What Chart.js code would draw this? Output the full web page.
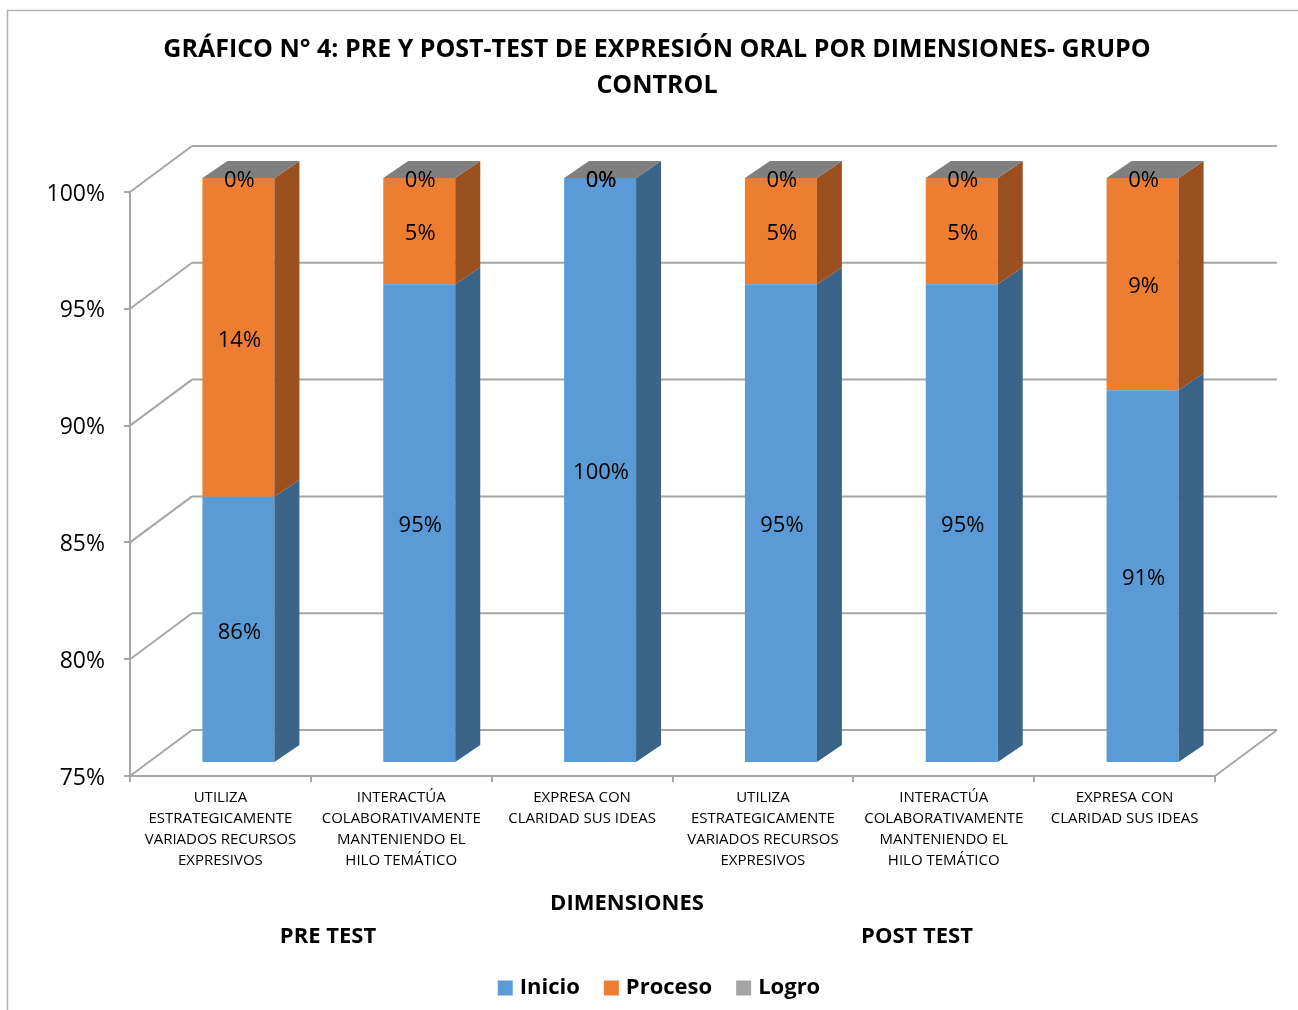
<!DOCTYPE html>
<html>
<head>
<meta charset="utf-8">
<script src="https://cdn.jsdelivr.net/npm/chart.js@4/dist/chart.umd.min.js"></script>
<style>
  html, body { margin: 0; padding: 0; background: #ffffff; }
  #wrap { width: 1298px; height: 1010px; }
</style>
</head>
<body>
<div id="wrap"><canvas id="c" width="1298" height="1010"></canvas></div>
<script>
// ---- data ----
const categories = [
  ["UTILIZA", "ESTRATEGICAMENTE", "VARIADOS RECURSOS", "EXPRESIVOS"],
  ["INTERACTÚA", "COLABORATIVAMENTE", "MANTENIENDO EL", "HILO TEMÁTICO"],
  ["EXPRESA CON", "CLARIDAD SUS IDEAS"],
  ["UTILIZA", "ESTRATEGICAMENTE", "VARIADOS RECURSOS", "EXPRESIVOS"],
  ["INTERACTÚA", "COLABORATIVAMENTE", "MANTENIENDO EL", "HILO TEMÁTICO"],
  ["EXPRESA CON", "CLARIDAD SUS IDEAS"]
];
const inicio  = [86.36, 95.45, 100, 95.45, 95.45, 90.91];
const proceso = [13.64, 4.55, 0, 4.55, 4.55, 9.09];
const logro   = [0, 0, 0, 0, 0, 0];
const seriesNames = ["Inicio", "Proceso", "Logro"];
const yTicks = [75, 80, 85, 90, 95, 100];
const titleLines = ["GRÁFICO N° 4: PRE Y POST-TEST DE EXPRESIÓN ORAL POR DIMENSIONES- GRUPO", "CONTROL"];
const axisTitle = "DIMENSIONES";
const groupLabels = ["PRE TEST", "POST TEST"];

// ---- style ----
const FONT = "'Open Sans', 'DejaVu Sans', sans-serif";
const frontColors = ["#5B9BD5", "#ED7D31", "#7F7F7F"];
const sideColors  = ["#3B6489", "#9A501F", "#7F7F7F"];
const legendColors = ["#5B9BD5", "#ED7D31", "#A5A5A5"];
const TOP_COLOR = "#7F7F7F";
const GRID = "#A6A6A6";
const WALL_DX = 62, WALL_DY = 46;   // back wall offset
const SHIFT_X = 18, SHIFT_Y = 14;   // bar front offset from front plane
const BAR_DX = 25, BAR_DY = 17;     // bar depth

function line(ctx, x1, y1, x2, y2) {
  ctx.beginPath(); ctx.moveTo(x1, y1); ctx.lineTo(x2, y2); ctx.stroke();
}
function poly(ctx, pts, color) {
  ctx.beginPath(); ctx.moveTo(pts[0][0], pts[0][1]);
  for (let k = 1; k < pts.length; k++) ctx.lineTo(pts[k][0], pts[k][1]);
  ctx.closePath(); ctx.fillStyle = color; ctx.fill();
}

const threeD = {
  id: 'threeD',
  beforeDraw(chart) {
    const ctx = chart.ctx;
    ctx.save();
    ctx.fillStyle = '#fff'; ctx.fillRect(0, 0, chart.width, chart.height);
    ctx.strokeStyle = '#B4B4B4'; ctx.lineWidth = 1.5;
    ctx.strokeRect(7.5, 10.5, 1400, 1100);
    // title
    ctx.fillStyle = '#000';
    ctx.font = "bold 25px " + FONT;
    ctx.textAlign = 'center'; ctx.textBaseline = 'middle';
    ctx.fillText(titleLines[0], 657, 50);
    ctx.fillText(titleLines[1], 657, 86);
    // axis title and groups
    ctx.font = "bold 22px " + FONT;
    ctx.fillText(axisTitle, 627, 904);
    ctx.fillText(groupLabels[0], 328, 937);
    ctx.fillText(groupLabels[1], 917, 937);
    // legend
    ctx.font = "bold 22px " + FONT;
    const box = 15, gapBox = 7, gapItem = 24;
    const widths = seriesNames.map(n => box + gapBox + ctx.measureText(n).width);
    const total = widths.reduce((a, b) => a + b, 0) + gapItem * (widths.length - 1);
    let lx = 659 - total / 2;
    const ly = 988;
    ctx.textAlign = 'left';
    seriesNames.forEach((n, i) => {
      ctx.fillStyle = legendColors[i];
      ctx.fillRect(lx, ly - box / 2, box, box);
      ctx.fillStyle = '#000';
      ctx.fillText(n, lx + box + gapBox, ly);
      lx += widths[i] + gapItem;
    });
    ctx.restore();
  },
  beforeDatasetsDraw(chart) {
    const { ctx, chartArea: a, scales: { y } } = chart;
    ctx.save();
    ctx.strokeStyle = GRID; ctx.lineWidth = 2;
    y.ticks.forEach(t => {
      const py = y.getPixelForValue(t.value);
      line(ctx, a.left, py, a.left + WALL_DX, py - WALL_DY);
      line(ctx, a.left + WALL_DX, py - WALL_DY, a.right + WALL_DX, py - WALL_DY);
    });
    line(ctx, a.right, a.bottom, a.right + WALL_DX, a.bottom - WALL_DY);
    ctx.restore();
    ctx.save();
    ctx.translate(SHIFT_X, -SHIFT_Y);
  },
  afterDatasetsDraw(chart) {
    const ctx = chart.ctx;
    const a = chart.chartArea;
    ctx.restore();
    const metas = chart.data.datasets.map((d, i) => chart.getDatasetMeta(i));
    const n = chart.data.labels.length;
    const clampY = v => Math.min(Math.max(v, a.top), a.bottom);
    ctx.save();
    for (let i = 0; i < n; i++) {
      metas.forEach((m, di) => {
        const el = m.data[i];
        const top = clampY(Math.min(el.y, el.base)) - SHIFT_Y;
        const bot = clampY(Math.max(el.y, el.base)) - SHIFT_Y;
        const r = el.x + el.width / 2 + SHIFT_X;
        if (bot - top > 0.1) {
          poly(ctx, [[r, top], [r + BAR_DX, top - BAR_DY], [r + BAR_DX, bot - BAR_DY], [r, bot]], sideColors[di]);
        }
      });
      const last = metas[metas.length - 1].data[i];
      const ty = clampY(last.y) - SHIFT_Y;
      const l = last.x - last.width / 2 + SHIFT_X;
      const r = last.x + last.width / 2 + SHIFT_X;
      poly(ctx, [[l, ty], [r, ty], [r + BAR_DX, ty - BAR_DY], [l + BAR_DX, ty - BAR_DY]], TOP_COLOR);
    }
    ctx.fillStyle = '#000';
    ctx.font = "22px " + FONT;
    ctx.textAlign = 'center'; ctx.textBaseline = 'middle';
    for (let i = 0; i < n; i++) {
      metas.forEach((m, di) => {
        const el = m.data[i];
        const v = chart.data.datasets[di].data[i];
        const cy = (clampY(el.y) + clampY(el.base)) / 2 - SHIFT_Y;
        ctx.fillText(Math.round(v) + '%', el.x + SHIFT_X + 1, cy + 3);
      });
    }
    ctx.restore();
  }
};

new Chart(document.getElementById('c'), {
  type: 'bar',
  data: {
    labels: categories,
    datasets: [
      { label: seriesNames[0], data: inicio,  backgroundColor: frontColors[0] },
      { label: seriesNames[1], data: proceso, backgroundColor: frontColors[1] },
      { label: seriesNames[2], data: logro,   backgroundColor: frontColors[2] }
    ]
  },
  options: {
    responsive: false,
    animation: false,
    devicePixelRatio: 1,
    layout: { padding: { top: 192, right: 83, left: 0, bottom: 0 } },
    datasets: { bar: { barPercentage: 0.398, categoryPercentage: 1, borderWidth: 0,
      clip: { left: 40, top: 40, right: 40, bottom: 0 } } },
    plugins: { legend: { display: false }, title: { display: false }, tooltip: { enabled: false } },
    scales: {
      x: {
        stacked: true,
        afterFit(s) { s.height = 234; },
        grid: { display: true, drawOnChartArea: false, drawTicks: true, tickLength: 6, color: GRID, lineWidth: 2 },
        border: { display: true, color: GRID, width: 2 },
        ticks: { color: '#000', font: { family: FONT, size: 15, lineHeight: 1.4 }, padding: 5, maxRotation: 0, autoSkip: false }
      },
      y: {
        stacked: true,
        min: yTicks[0], max: yTicks[yTicks.length - 1],
        afterFit(s) { s.width = 130; },
        afterBuildTicks(s) { s.ticks = yTicks.map(v => ({ value: v })); },
        grid: { display: true, drawOnChartArea: false, drawTicks: true, tickLength: 6, color: GRID, lineWidth: 2 },
        border: { display: true, color: GRID, width: 2 },
        ticks: { color: '#000', font: { family: FONT, size: 23 }, padding: 19, labelOffset: 2, callback: v => v + '%' }
      }
    }
  },
  plugins: [threeD]
});
</script>
</body>
</html>
